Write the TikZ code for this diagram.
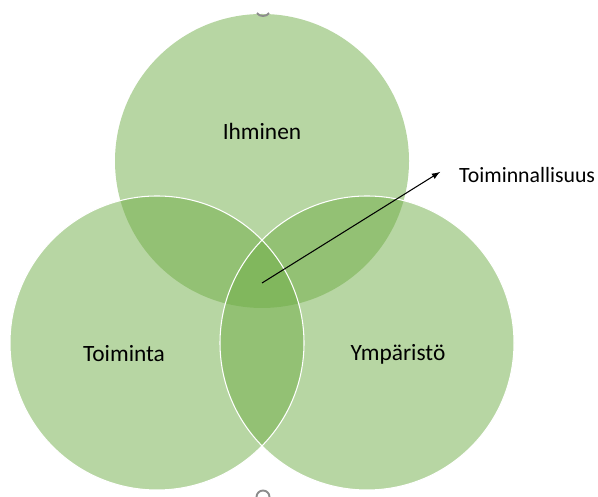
\documentclass[tikz,border=0pt]{standalone}
\usepackage{fontspec}
\setmainfont{Carlito}
\usetikzlibrary{arrows,calc}
\definecolor{venngreen}{RGB}{112,173,71}
\definecolor{handlegray}{RGB}{140,140,140}

\begin{document}
\begin{tikzpicture}[venn/.style={fill=venngreen,fill opacity=0.5},
  rim/.style={draw=white,line width=0.6pt},
  lbl/.style={font=\fontsize{13.3}{16}\selectfont}]
\useasboundingbox (0,0) rectangle (11.96,9.94);

\fill[venn] (5.24,6.72) circle (2.94);
\fill[venn] (3.14,3.08) circle (2.94);
\fill[venn] (7.34,3.08) circle (2.94);
\draw[rim] (3.14,3.08) circle (2.94);
\draw[rim] (7.34,3.08) circle (2.94);

% handles
\draw[handlegray,line width=1.1pt] (5.14,9.68) .. controls (5.18,9.6) and (5.34,9.6) .. (5.38,9.68);
\draw[handlegray,line width=1.1pt] (5.13,0) arc (180:0:0.13);

\node[lbl] (ihminen) at (5.24,7.32) {Ihminen};
\node[lbl] (toiminta) at (2.48,2.86) {Toiminta};
\node[lbl] (ymparisto) at (7.96,2.86) {Ympäristö};
\node[font=\fontsize{12.4}{15}\selectfont,right] (toim) at (9.06,6.44) {Toiminnallisuus};

\coordinate (mid) at (5.24,4.28);
\coordinate (tip) at (8.8,6.5);
\draw[-latex,line width=0.6pt] (mid) -- (tip);
\end{tikzpicture}
\end{document}
